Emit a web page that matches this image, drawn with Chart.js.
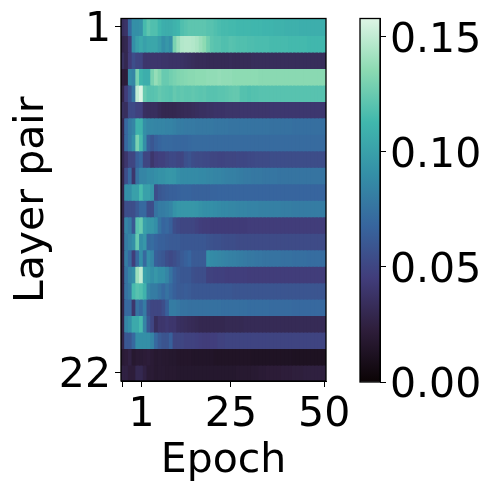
<!DOCTYPE html>
<html>
<head>
<meta charset="utf-8">
<style>
  html, body { margin: 0; background: #fff; overflow: hidden; }
  canvas { position: absolute; left: 0; top: 0; }
</style>
<script src="https://cdn.jsdelivr.net/npm/chart.js@4"></script>
</head>
<body>
<canvas id="heat" width="491" height="491"></canvas>
<canvas id="bar" width="491" height="491"></canvas>
<script>
// values per layer pair, one per column (5 steps before epoch 1, then epochs 1-50)
const row01 = [.035,.038,.070,.090,.090,.092,.115,.122,.118,.118, .112,.108,.107,.107,.110,.112,.118,.120,.122,.122, .122,.122,.122,.120,.120,.118,.116,.115,.115,.114, .114,.113,.113,.113,.113,.112,.112,.112,.111,.111, .111,.110,.110,.110,.109,.109,.109,.109,.108,.108, .108,.108,.108,.108,.108];
const row02 = [.028,.030,.045,.090,.100,.105,.100,.103,.103,.103, .098,.090,.095,.090,.130,.140,.146,.147,.147,.146, .144,.140,.136,.128,.122,.120,.120,.118,.118,.120, .119,.118,.118,.118,.117,.117,.116,.116,.116,.116, .115,.115,.115,.115,.115,.114,.114,.114,.114,.114, .113,.113,.113,.113,.113];
const row03 = [.035,.030,.045,.055,.050,.050,.040,.040,.040,.040, .040,.039,.039,.038,.038,.038,.037,.036,.035,.034, .033,.033,.033,.032,.032,.032,.032,.032,.032,.033, .032,.032,.033,.033,.033,.034,.034,.034,.034,.034, .034,.034,.034,.034,.034,.034,.034,.034,.034,.034, .034,.034,.034,.034,.034];
const row04 = [.022,.022,.088,.085,.130,.112,.108,.108,.130,.138, .133,.125,.125,.128,.130,.132,.133,.134,.135,.135, .136,.136,.136,.137,.137,.137,.138,.137,.137,.137, .136,.136,.136,.136,.136,.136,.136,.135,.135,.135, .135,.135,.135,.135,.135,.135,.135,.135,.135,.135, .135,.135,.135,.135,.135];
const row05 = [.028,.045,.058,.075,.150,.158,.125,.120,.120,.121, .124,.122,.121,.120,.124,.122,.123,.122,.122,.123, .122,.121,.122,.120,.120,.120,.121,.121,.122,.123, .124,.124,.119,.119,.118,.119,.119,.120,.120,.120, .120,.120,.120,.120,.120,.120,.120,.120,.120,.120, .120,.120,.120,.120,.120];
const row06 = [.035,.035,.052,.052,.048,.048,.036,.035,.035,.035, .032,.030,.030,.030,.030,.031,.032,.033,.033,.034, .035,.036,.036,.037,.037,.038,.038,.038,.039,.039, .039,.039,.040,.040,.040,.040,.040,.040,.040,.040, .041,.041,.041,.041,.041,.041,.041,.041,.041,.041, .041,.041,.041,.041,.041];
const row07 = [.030,.070,.080,.085,.110,.110,.090,.086,.086,.085, .085,.085,.084,.084,.082,.080,.080,.079,.079,.079, .078,.078,.078,.078,.078,.077,.077,.077,.077,.076, .076,.076,.076,.076,.076,.075,.075,.075,.075,.075, .074,.074,.074,.074,.074,.074,.073,.073,.073,.073, .073,.073,.073,.073,.073];
const row08 = [.030,.070,.080,.090,.130,.115,.090,.065,.060,.065, .068,.070,.070,.070,.069,.069,.069,.069,.070,.071, .071,.071,.071,.071,.071,.071,.071,.071,.071,.071, .071,.071,.071,.071,.071,.071,.071,.071,.071,.071, .071,.071,.071,.071,.071,.071,.071,.071,.071,.071, .071,.071,.071,.071,.071];
const row09 = [.030,.040,.050,.050,.065,.070,.050,.050,.040,.045, .047,.047,.050,.052,.052,.050,.050,.056,.058,.054, .053,.053,.052,.052,.050,.050,.049,.049,.050,.050, .050,.051,.051,.051,.052,.052,.053,.053,.053,.053, .054,.054,.054,.054,.054,.054,.054,.054,.054,.054, .054,.054,.054,.054,.054];
const row10 = [.028,.055,.070,.040,.075,.085,.085,.088,.088,.090, .092,.092,.094,.095,.094,.090,.088,.088,.088,.088, .088,.087,.087,.086,.086,.085,.085,.084,.083,.082, .082,.081,.080,.079,.079,.078,.078,.078,.077,.077, .077,.077,.076,.076,.076,.076,.076,.076,.076,.076, .076,.076,.076,.076,.076];
const row11 = [.028,.090,.090,.100,.100,.115,.100,.100,.095,.054, .060,.062,.064,.065,.065,.066,.067,.067,.067,.066, .066,.066,.066,.066,.067,.067,.068,.068,.068,.068, .068,.068,.068,.068,.068,.068,.068,.068,.068,.068, .068,.068,.068,.068,.068,.068,.068,.068,.068,.068, .068,.068,.068,.068,.068];
const row12 = [.028,.055,.055,.055,.062,.070,.070,.055,.055,.075, .080,.080,.082,.085,.092,.095,.095,.095,.095,.095, .094,.092,.090,.090,.090,.089,.088,.087,.087,.086, .086,.085,.085,.085,.084,.084,.084,.083,.083,.083, .082,.082,.082,.081,.081,.081,.080,.080,.080,.080, .080,.080,.080,.080,.080];
const row13 = [.028,.085,.080,.060,.120,.125,.100,.095,.095,.090, .075,.068,.070,.065,.055,.052,.050,.050,.050,.050, .048,.046,.045,.045,.044,.044,.044,.044,.044,.044, .044,.044,.044,.044,.045,.045,.045,.045,.045,.045, .045,.045,.045,.045,.045,.045,.045,.045,.045,.045, .045,.045,.045,.045,.045];
const row14 = [.028,.080,.085,.090,.125,.090,.095,.070,.072,.068, .065,.065,.063,.062,.062,.062,.060,.060,.060,.060, .060,.060,.060,.058,.057,.056,.056,.055,.054,.054, .054,.053,.053,.053,.053,.053,.053,.053,.053,.053, .053,.053,.053,.053,.053,.053,.053,.053,.053,.053, .053,.053,.053,.053,.053];
const row15 = [.028,.080,.070,.045,.070,.090,.070,.090,.085,.065, .062,.060,.055,.052,.055,.058,.062,.065,.068,.062, .062,.062,.062,.090,.088,.087,.086,.085,.084,.083, .082,.081,.080,.079,.078,.078,.077,.077,.076,.076, .075,.075,.075,.074,.074,.074,.073,.073,.073,.073, .072,.072,.072,.072,.072];
const row16 = [.028,.075,.085,.090,.140,.150,.100,.095,.090,.095, .090,.090,.085,.075,.066,.062,.060,.060,.060,.056, .055,.055,.055,.048,.048,.047,.047,.047,.046,.046, .046,.046,.046,.046,.045,.045,.045,.045,.045,.045, .045,.045,.045,.045,.045,.045,.045,.045,.045,.045, .045,.045,.045,.045,.045];
const row17 = [.028,.075,.080,.115,.120,.118,.110,.085,.080,.080, .075,.070,.075,.070,.065,.062,.062,.063,.062,.060, .060,.060,.060,.060,.060,.060,.060,.060,.060,.060, .059,.059,.059,.059,.059,.059,.059,.059,.059,.059, .059,.059,.059,.059,.059,.059,.059,.059,.059,.059, .059,.059,.059,.059,.059];
const row18 = [.028,.070,.070,.040,.075,.070,.080,.055,.050,.050, .050,.055,.065,.080,.080,.078,.075,.075,.074,.074, .074,.074,.074,.074,.074,.074,.074,.073,.073,.073, .073,.073,.073,.073,.072,.072,.072,.072,.072,.072, .071,.071,.071,.071,.071,.071,.070,.070,.070,.070, .070,.070,.070,.070,.070];
const row19 = [.028,.085,.090,.105,.105,.115,.085,.060,.050,.035, .040,.040,.042,.040,.040,.036,.035,.034,.033,.032, .031,.030,.030,.030,.030,.030,.030,.030,.031,.031, .031,.031,.031,.032,.032,.032,.032,.032,.032,.032, .032,.032,.032,.032,.032,.032,.032,.032,.032,.032, .032,.032,.032,.032,.032];
const row20 = [.028,.060,.060,.070,.090,.090,.090,.090,.085,.070, .062,.058,.058,.065,.050,.050,.050,.048,.048,.048, .047,.046,.045,.045,.046,.046,.048,.048,.049,.049, .049,.049,.049,.049,.049,.049,.049,.049,.049,.049, .049,.049,.049,.049,.049,.049,.049,.049,.049,.049, .049,.049,.049,.049,.049];
const row21 = [.020,.022,.025,.018,.020,.020,.021,.022,.020,.018, .019,.018,.018,.017,.017,.016,.016,.016,.016,.015, .015,.015,.015,.015,.015,.014,.014,.014,.014,.014, .014,.014,.014,.014,.014,.013,.013,.013,.013,.013, .013,.013,.013,.013,.013,.013,.012,.012,.012,.012, .012,.012,.012,.012,.012];
const row22 = [.025,.025,.022,.022,.030,.030,.025,.020,.020,.018, .019,.019,.018,.018,.018,.017,.017,.017,.017,.017, .017,.017,.017,.017,.017,.017,.017,.017,.017,.017, .017,.018,.018,.018,.018,.019,.019,.020,.020,.021, .021,.021,.021,.022,.022,.022,.023,.023,.023,.024, .024,.024,.024,.024,.024];
const layerRows = [row01,row02,row03,row04,row05,row06,row07,row08,row09,row10,row11,row12,row13,row14,row15,row16,row17,row18,row19,row20,row21,row22];

const columnLabels = layerRows[0].map((_, i) => String(i - 4));
const xTickColumns = [0, 5, 29, 54];
const xTickLabels = ["", "1", "25", "50"];
const yTickValues = [1, 22];
const barTickValues = [0, 0.05, 0.1, 0.15];
const vMax = 0.158;

// mako colormap, sampled
const makoStops = [
  [0, 11, 4, 5], [0.143, 46, 30, 59], [0.286, 65, 61, 123], [0.429, 55, 101, 158],
  [0.571, 52, 143, 167], [0.714, 64, 183, 173], [0.857, 139, 218, 178], [1, 222, 245, 229],
];

function makoColor(t) {
  t = Math.max(0, Math.min(1, t));
  let i = 0;
  while (i < makoStops.length - 2 && t > makoStops[i + 1][0]) i++;
  const a = makoStops[i], b = makoStops[i + 1];
  const f = (t - a[0]) / (b[0] - a[0]);
  const c = [1, 2, 3].map((k) => Math.round(a[k] + (b[k] - a[k]) * f));
  return `rgb(${c[0]},${c[1]},${c[2]})`;
}

const FONT = "DejaVu Sans";
const frame = {
  id: "frame",
  afterDatasetsDraw(chart) {
    const a = chart.chartArea, ctx = chart.ctx;
    ctx.save();
    ctx.strokeStyle = "#000";
    ctx.lineWidth = 1.3;
    ctx.strokeRect(a.left, a.top, a.right - a.left, a.bottom - a.top);
    ctx.restore();
  },
};

// big labels otherwise push the plot area in, keep it where it is in the picture
function noOverhang(s) {
  s.paddingTop = s.paddingBottom = s.paddingLeft = s.paddingRight = 0;
}

new Chart(document.getElementById("heat"), {
  type: "bar",
  plugins: [frame],
  data: {
    labels: columnLabels,
    datasets: layerRows.map((row, r) => ({
      data: row.map(() => [r + 0.5, r + 1.56]),
      backgroundColor: row.map((v) => makoColor(v / vMax)),
      borderWidth: 0,
      barPercentage: 1.3, // overlap so no white seams between cells
      categoryPercentage: 1,
      grouped: false,
    })),
  },
  options: {
    responsive: false,
    animation: false,
    layout: { padding: { left: 0, right: 165, top: 18.5, bottom: 0 } },
    plugins: { legend: { display: false }, tooltip: { enabled: false } },
    scales: {
      x: {
        offset: true,
        afterFit: (s) => { s.height = 110; noOverhang(s); },
        afterBuildTicks: (s) => { s.ticks = xTickColumns.map((v) => ({ value: v })); },
        grid: { display: true, offset: false, drawOnChartArea: false, tickLength: 6, color: "#000" },
        border: { color: "#000" },
        ticks: {
          autoSkip: false, maxRotation: 0, color: "#000", padding: 4, font: { family: FONT, size: 41 },
          callback: (v, i) => xTickLabels[i],
        },
        title: { display: true, text: "Epoch", color: "#000", padding: { top: 0, bottom: 5 }, font: { family: FONT, size: 41 } },
      },
      y: {
        reverse: true, min: 0.5, max: 22.5,
        afterFit: (s) => { s.width = 121; noOverhang(s); },
        afterBuildTicks: (s) => { s.ticks = yTickValues.map((v) => ({ value: v })); },
        grid: { display: true, drawOnChartArea: false, tickLength: 6, color: "#000" },
        border: { color: "#000" },
        ticks: { color: "#000", padding: 4, labelOffset: 4, font: { family: FONT, size: 41 }, callback: (v) => String(v) },
        title: { display: true, text: "Layer pair", color: "#000", padding: { top: 8, bottom: 0 }, font: { family: FONT, size: 41 } },
      },
    },
  },
});

new Chart(document.getElementById("bar"), {
  type: "bar",
  plugins: [frame],
  data: {
    labels: ["scale"],
    datasets: [{
      data: [[0, vMax]],
      borderWidth: 0,
      barPercentage: 1,
      categoryPercentage: 1,
      backgroundColor: (ctx) => {
        const a = ctx.chart.chartArea;
        if (!a) return "#000";
        const g = ctx.chart.ctx.createLinearGradient(0, a.bottom, 0, a.top);
        makoStops.forEach((s) => g.addColorStop(s[0], makoColor(s[0])));
        return g;
      },
    }],
  },
  options: {
    responsive: false,
    animation: false,
    layout: { padding: { left: 360, right: 0, top: 18.5, bottom: 109 } },
    plugins: { legend: { display: false }, tooltip: { enabled: false } },
    scales: {
      x: { display: false },
      y: {
        position: "right", min: 0, max: vMax,
        afterFit: (s) => { s.width = 111; noOverhang(s); },
        afterBuildTicks: (s) => { s.ticks = barTickValues.map((v) => ({ value: v })); },
        grid: { display: true, drawOnChartArea: false, tickLength: 6, color: "#000" },
        border: { color: "#000" },
        ticks: { color: "#000", padding: 4, labelOffset: 4, font: { family: FONT, size: 41 }, callback: (v) => v.toFixed(2) },
      },
    },
  },
});
</script>
</body>
</html>
